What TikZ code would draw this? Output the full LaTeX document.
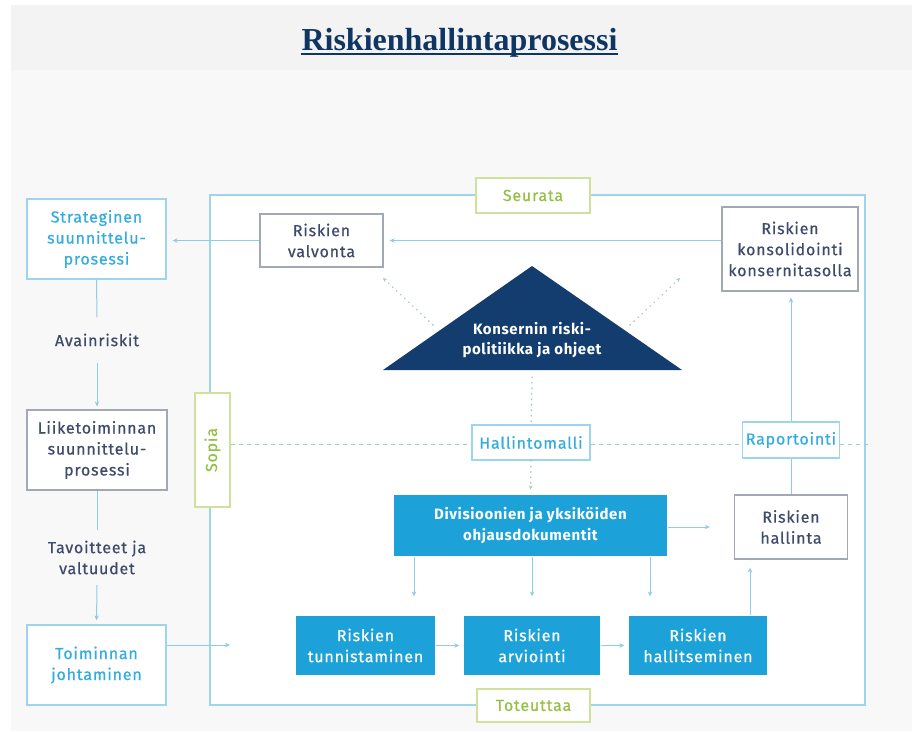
\documentclass[tikz,border=0pt]{standalone}
\usepackage{fontspec}
\usetikzlibrary{arrows.meta}
\newfontfamily\bxfont{Fira Sans}[LetterSpace=5,FakeBold=0.6]
\newfontfamily\bbfont{Fira Sans}[LetterSpace=4]
\newfontfamily\ttlfont{Liberation Serif}
\definecolor{bgA}{HTML}{F3F3F3}
\definecolor{bgB}{HTML}{F8F8F8}
\definecolor{lline}{HTML}{9DD5EC}
\definecolor{ctext}{HTML}{33ADE0}
\definecolor{gline}{HTML}{A3A8B5}
\definecolor{dtext}{HTML}{3F4B6B}
\definecolor{grline}{HTML}{CFE29B}
\definecolor{grtext}{HTML}{95C045}
\definecolor{navy}{HTML}{133D6F}
\definecolor{ttlnavy}{HTML}{0F3662}
\definecolor{cfill}{HTML}{1CA2D9}
\definecolor{acol}{HTML}{8CCDE8}
\definecolor{dcol}{HTML}{A9C9C9}
\begin{document}
\begin{tikzpicture}[x=1pt,y=-1pt,
  box/.style={rectangle, line width=1.3pt, inner sep=0pt, align=center, fill=white,
    font=\bxfont\fontsize{16}{21}\selectfont},
  lbox/.style={box, draw=lline, text=ctext},
  gbox/.style={box, draw=gline, text=dtext},
  grbox/.style={box, draw=grline, text=grtext},
  cbox/.style={box, fill=cfill, draw=none, text=white},
  cboxb/.style={cbox, font=\bbfont\bfseries\fontsize{15}{21}\selectfont},
  lbl/.style={text=dtext, align=center, inner sep=0pt,
    font=\bxfont\fontsize{16}{21}\selectfont},
  arr/.style={draw=acol, line width=1pt, -{Stealth[length=5pt,width=4.5pt]}},
  ln/.style={draw=acol, line width=1pt},
  dotln/.style={draw=dcol, line width=1.5pt, line cap=round, dash pattern=on 0.5pt off 5pt},
  dotarr/.style={dotln, -{Stealth[length=4pt,width=4pt]}},
  dashln/.style={draw=dcol, line width=1pt, dash pattern=on 4pt off 4pt}
]
\useasboundingbox (0,0) rectangle (912,731);
% backgrounds
\fill[white] (0,0) rectangle (912,731);
\fill[bgA] (11,5) rectangle (912,70);
\fill[bgB] (11,70) rectangle (912,731);
% title
\node[font=\ttlfont\bfseries\fontsize{32}{32}\selectfont, text=ttlnavy, inner sep=0pt, anchor=base] (title) at (459.5,50) {Riskienhallintaprosessi};
\draw[ttlnavy, line width=1.8pt] ([yshift=-4pt]title.base west) -- ([yshift=-4pt]title.base east);
% frame
\draw[lline, line width=1.3pt, fill=white] (210,195) rectangle (865,705);
% triangle
\coordinate (triTop) at (532,266);
\coordinate (triL) at (383,370);
\coordinate (triR) at (682,370);
\fill[navy] (triTop) -- (triL) -- (triR) -- cycle;
\node[text=white, align=center, inner sep=0pt, font=\bbfont\bfseries\fontsize{15}{20}\selectfont] (tri) at (532,340) {Konsernin riski-\\politiikka ja ohjeet};
% left column
\node[lbox, minimum width=139pt, minimum height=80pt] (strat) at (96.5,239) {Strateginen\\suunnittelu-\\prosessi};
\node[lbl, minimum height=45pt] (avain) at (97,340) {Avainriskit};
\node[gbox, minimum width=140pt, minimum height=80pt] (liike) at (97,450) {Liiketoiminnan\\suunnittelu-\\prosessi};
\node[lbl, minimum height=55pt] (tavo) at (97,557.5) {Tavoitteet ja\\valtuudet};
\node[lbox, minimum width=139pt, minimum height=80pt] (toim) at (96.5,665) {Toiminnan\\johtaminen};
% frame labels
\node[grbox, minimum width=114pt, minimum height=35pt] (seurata) at (533,195.5) {Seurata};
\node[grbox, minimum width=113pt, minimum height=33pt] (toteuttaa) at (533.5,705.5) {Toteuttaa};
\node[grbox, minimum width=35pt, minimum height=114pt] (sopia) at (212.5,450) {\rotatebox{90}{Sopia}};
% inner boxes
\node[gbox, minimum width=123pt, minimum height=53pt] (valv) at (321.5,240.5) {Riskien\\valvonta};
\node[gbox, minimum width=136pt, minimum height=84pt] (kons) at (790,249) {Riskien\\konsolidointi\\konsernitasolla};
\node[lbox, minimum width=97pt, minimum height=36pt] (raport) at (791,440) {Raportointi};
\node[lbox, minimum width=118pt, minimum height=35pt] (hallinto) at (531,442.5) {Hallintomalli};
\node[cboxb, minimum width=273pt, minimum height=61pt] (div) at (530.5,525.5) {Divisioonien ja yksiköiden\\ohjausdokumentit};
\node[gbox, minimum width=113pt, minimum height=64pt] (hallinta) at (791,527) {Riskien\\hallinta};
\node[cbox, minimum width=139pt, minimum height=59pt] (tunn) at (365.5,645.5) {Riskien\\tunnistaminen};
\node[cbox, minimum width=136pt, minimum height=59pt] (arvi) at (532,645.5) {Riskien\\arviointi};
\node[cbox, minimum width=138pt, minimum height=59pt] (hallits) at (698,645.5) {Riskien\\hallitseminen};
% dashed horizontal line
\coordinate (dashR) at (872,444);
\draw[dashln] (sopia.east |- dashR) -- (hallinto.west |- dashR);
\draw[dashln] (hallinto.east |- dashR) -- (raport.west |- dashR);
\draw[dashln] (raport.east |- dashR) -- (dashR);
% dotted lines
\coordinate (dLs) at (433,325);
\coordinate (dLe) at (383,278);
\coordinate (dRs) at (630,325);
\coordinate (dRe) at (680,278);
\coordinate (triB) at (532,377);
\draw[dotarr] (dLs) -- (dLe);
\draw[dotarr] (dRs) -- (dRe);
\draw[dotln] (triB) -- (hallinto.north);
\draw[dotarr, shorten >=5pt] (hallinto.south) -- (div.north);
% left column connectors
\draw[ln] (strat.south) -- (avain.north);
\draw[arr, shorten >=3pt] (avain.south) -- (liike.north);
\draw[ln] (liike.south) -- (tavo.north);
\draw[arr, shorten >=4pt] (tavo.south) -- (toim.north);
\coordinate (toimEnd) at (230,645);
\draw[arr] (toim.east |- toimEnd) -- (toimEnd);
% top connectors
\draw[arr, shorten >=6pt] (kons.west |- valv.east) -- (valv.east);
\draw[arr, shorten >=6pt] (valv.west) -- (strat.east |- valv.west);
% right column
\draw[ln] (hallinta.north) -- (raport.south);
\draw[arr, shorten >=6pt] (raport.north) -- (raport.north |- kons.south);
\draw[arr, shorten >=24pt] (div.east |- hallinta.west) -- (hallinta.west);
\draw[arr, shorten >=8pt] ([xshift=52pt]hallits.north) -- ([xshift=52pt]hallits.north |- hallinta.south);
% div to bottom row
\draw[arr, shorten >=19pt] ([xshift=-116.5pt]div.south) -- ([xshift=-116.5pt]div.south |- tunn.north);
\draw[arr, shorten >=19pt] ([xshift=1.5pt]div.south) -- ([xshift=1.5pt]div.south |- arvi.north);
\draw[arr, shorten >=19pt] ([xshift=119.5pt]div.south) -- ([xshift=119.5pt]div.south |- hallits.north);
% bottom row
\draw[arr, shorten >=4pt] (tunn.east) -- (arvi.west);
\draw[arr, shorten >=4pt] (arvi.east) -- (hallits.west);
\end{tikzpicture}
\end{document}
